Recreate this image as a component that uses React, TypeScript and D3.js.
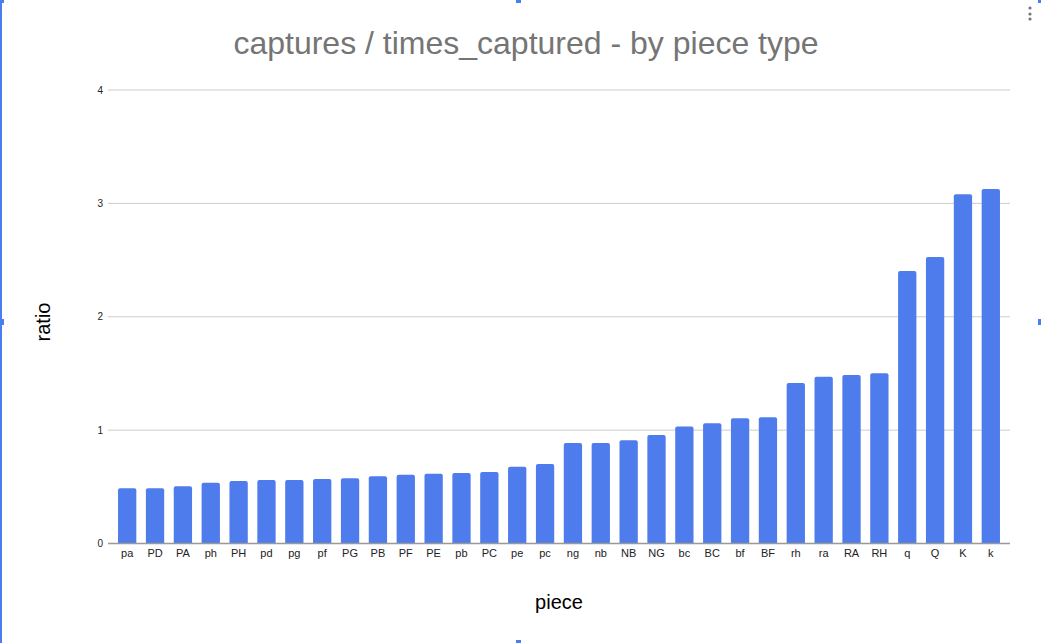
import React from "react";
import * as d3 from "d3";

const pieces = ["pa","PD","PA","ph","PH","pd","pg","pf","PG","PB","PF","PE","pb","PC","pe","pc","ng","nb","NB","NG","bc","BC","bf","BF","rh","ra","RA","RH","q","Q","K","k"];
const ratios = [0.487,0.487,0.504,0.536,0.551,0.56,0.56,0.569,0.575,0.593,0.607,0.616,0.622,0.63,0.677,0.701,0.886,0.886,0.91,0.957,1.033,1.06,1.104,1.113,1.415,1.471,1.486,1.501,2.403,2.528,3.08,3.126];
const yTicks = [0,1,2,3,4];
const title = "captures / times_captured - by piece type";
const xTitle = "piece";
const yTitle = "ratio";

const W = 1041, H = 643;
const left = 108, right = 1010, top = 90, bottom = 543.5;
const font = "Arial, 'Liberation Sans', sans-serif";

export default function App() {
  const x = d3.scaleBand<string>().domain(pieces).range([left, right]).paddingInner(0.343).paddingOuter(0.36);
  const y = d3.scaleLinear().domain([0, 4]).range([bottom, top]);
  const bw = x.bandwidth();
  const r = 2;
  const barPath = (p: string, v: number) => {
    const x0 = x(p)!, x1 = x0 + bw, y0 = y(v), yb = y(0);
    const path = d3.path();
    path.moveTo(x0, yb);
    path.lineTo(x0, y0 + r);
    path.quadraticCurveTo(x0, y0, x0 + r, y0);
    path.lineTo(x1 - r, y0);
    path.quadraticCurveTo(x1, y0, x1, y0 + r);
    path.lineTo(x1, yb);
    path.closePath();
    return path.toString();
  };
  return (
    <svg width={W} height={H} style={{ position: "fixed", left: 0, top: 0, background: "#fff" }} fontFamily={font}>
      <rect x={0} y={0} width={W} height={H} fill="#fff" />
      <text x={526} y={54} textAnchor="middle" fontSize={32} fill="#757575">{title}</text>
      {yTicks.map((t) => (
        <g key={t}>
          {t !== 0 && <line x1={left} x2={right} y1={y(t)} y2={y(t)} stroke="#cccccc" strokeWidth={1} />}
          <text x={103} y={y(t) + 3.5} textAnchor="end" fontSize={10} fill="#222">{t}</text>
        </g>
      ))}
      {pieces.map((p, i) => (
        <path key={p} d={barPath(p, ratios[i])} fill="#4f7ced" />
      ))}
      <line x1={left} x2={right} y1={bottom} y2={bottom} stroke="#999" strokeWidth={1.5} />
      {pieces.map((p) => (
        <text key={p} x={x(p)! + bw / 2} y={557} textAnchor="middle" fontSize={11} fill="#222">{p}</text>
      ))}
      <text x={559} y={609} textAnchor="middle" fontSize={20} fill="#000">{xTitle}</text>
      <text transform="translate(50,322) rotate(-90)" textAnchor="middle" fontSize={20} fill="#000">{yTitle}</text>
      {/* selection frame */}
      <rect x={0} y={0} width={2} height={H} fill="#4a7ef0" />
      <rect x={0} y={0} width={4} height={3} fill="#4a7ef0" />
      <rect x={516} y={0} width={5} height={3} fill="#4a7ef0" />
      <rect x={1038} y={0} width={3} height={3} fill="#4a7ef0" />
      <rect x={1038} y={319} width={3} height={6} fill="#4a7ef0" />
      <rect x={0} y={319} width={4} height={6} fill="#4a7ef0" />
      <rect x={516} y={640} width={5} height={3} fill="#4a7ef0" />
      {[8, 14, 19].map((cy) => (
        <circle key={cy} cx={1030} cy={cy} r={1.6} fill="#777" />
      ))}
    </svg>
  );
}
